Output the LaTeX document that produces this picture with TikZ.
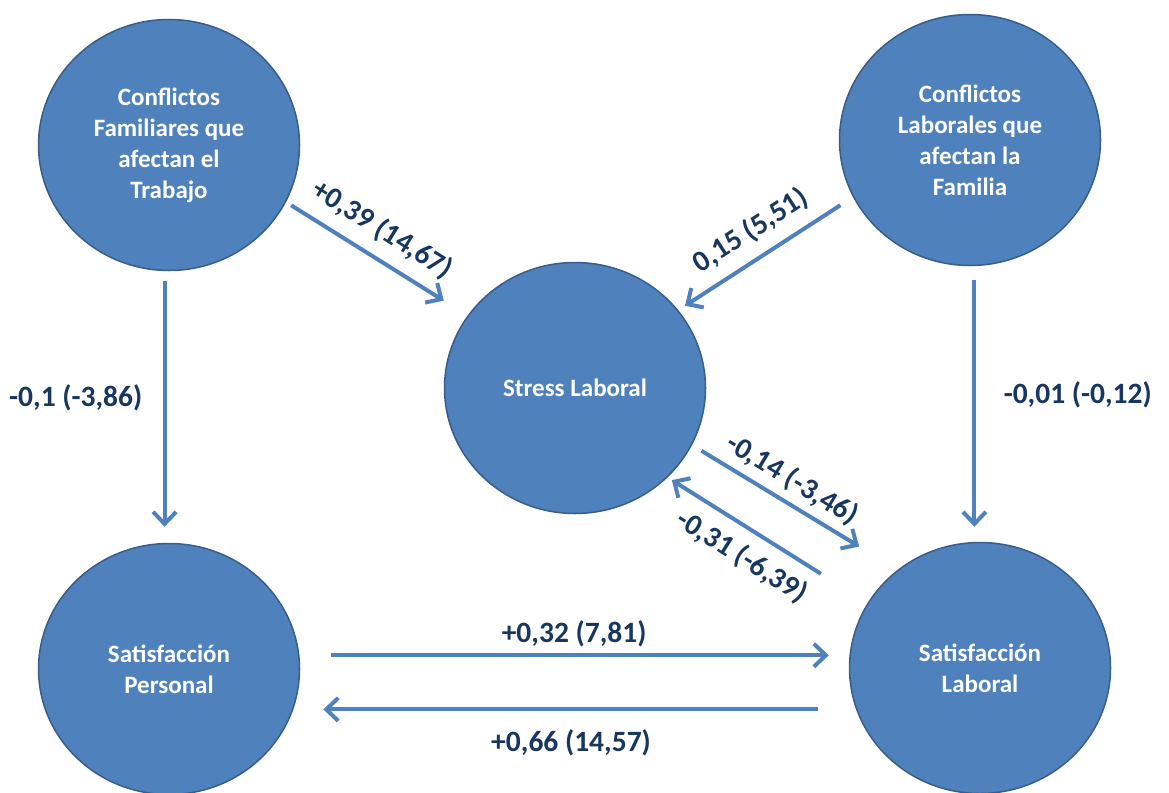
\documentclass[tikz,border=0pt]{standalone}
\usepackage{fontspec}
\setmainfont{Carlito}
\usepackage{xcolor}
\definecolor{nodeblue}{HTML}{4F81BD}
\definecolor{edgeblue}{HTML}{385D8A}
\definecolor{labelblue}{HTML}{17375E}
\usetikzlibrary{arrows.meta, shapes.geometric}

\begin{document}
\begin{tikzpicture}[
    x=1pt, y=-1pt,
    factor/.style={ellipse, draw=edgeblue, line width=1.5pt, fill=nodeblue, minimum width=261pt, minimum height=251pt, inner sep=0pt, align=center, text=white, font=\fontsize{25}{31}\selectfont\bfseries},
    arrow/.style={-{Straight Barb[length=12pt,width=23pt]}, line width=4pt, color=nodeblue},
    coef/.style={font=\fontsize{29.5}{35}\selectfont\bfseries, text=labelblue}
]
\useasboundingbox (0,0) rectangle (1169,792);

\node[factor] (fam) at (169,145) {Conflictos\\Familiares que\\afectan el\\Trabajo};
\node[factor] (lab) at (970,140) {Conflictos\\Laborales que\\afectan la\\Familia};
\node[factor] (stress) at (575,388) {Stress Laboral};
\node[factor] (satper) at (169,669) {Satisfacción\\Personal};
\node[factor] (satlab) at (980,668) {Satisfacción\\Laboral};

\draw[arrow, shorten <=6pt, shorten >=28pt] (fam.-26.4) -- node[coef, sloped, above=9pt, pos=.45] {+0,39 (14,67)} (stress.146.7);
\draw[arrow, shorten <=15pt, shorten >=8pt] (lab.206.1) -- node[coef, sloped, above=9pt, pos=.5] {0,15 (5,51)} (stress.37.7);
\draw[arrow, shorten <=11pt, shorten >=45pt] (stress.-26.5) -- node[coef, sloped, above=4pt, pos=.43] {-0,14 (-3,46)} (satlab.130.9);
\draw[arrow, shorten <=55pt, shorten >=5pt] (satlab.150.5) -- node[coef, sloped, below=9pt, pos=.555] {-0,31 (-6,39)} (stress.-44.3);
\draw[arrow, shorten <=10pt, shorten >=16pt] (fam.-92.3) -- node[coef, left=17pt, pos=.465] {-0,1 (-3,86)} (fam.-92.3 |- satper.north);
\draw[arrow, shorten <=14pt, shorten >=15pt] (lab.-88.7) -- node[coef, right=24pt, pos=.465] {-0,01 (-0,12)} (lab.-88.7 |- satlab.north);
\draw[arrow, shorten <=32pt, shorten >=20pt] (satper.6.4) -- node[coef, above=3pt] {+0,32 (7,81)} (satper.6.4 -| satlab.west);
\draw[arrow, shorten <=31pt, shorten >=30pt] (satper.-18 -| satlab.west) -- node[coef, below=15pt] {+0,66 (14,57)} (satper.-18);
\end{tikzpicture}
\end{document}
